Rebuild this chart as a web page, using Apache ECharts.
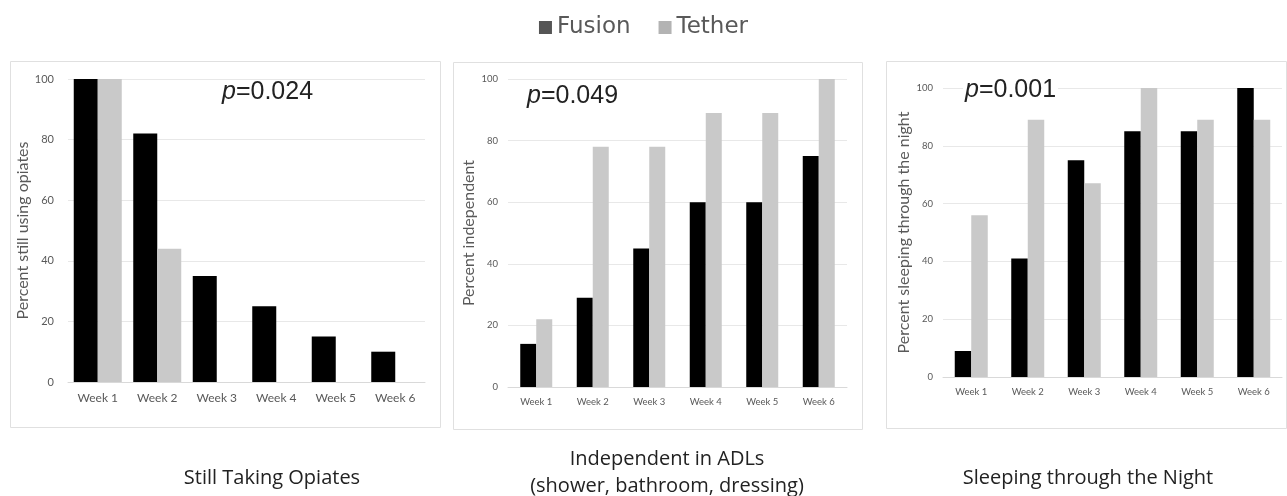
<!DOCTYPE html>
<html>
<head>
<meta charset="utf-8">
<script src="https://cdn.jsdelivr.net/npm/echarts@6/dist/echarts.min.js"></script>
<style>
  html,body{margin:0;padding:0;background:#fff;}
  #main{width:1287px;height:496px;}
</style>
</head>
<body>
<div id="main"></div>
<script>
var weeks=['Week 1','Week 2','Week 3','Week 4','Week 5','Week 6'];
var yTicks=[0,20,40,60,80,100];

var opiatesFusion=[100,82,35,25,15,10];
var opiatesTether=[100,44,0,0,0,0];
var adlFusion=[14,29,45,60,60,75];
var adlTether=[22,78,78,89,89,100];
var sleepFusion=[9,41,75,85,85,100];
var sleepTether=[56,89,67,100,89,89];

var pValues=['0.024','0.049','0.001'];
var panelTitles=['Still Taking Opiates','Independent in ADLs\n(shower, bathroom, dressing)','Sleeping through the Night'];
var yNames=['Percent still using opiates','Percent independent','Percent sleeping through the night'];

var fusionColor='#000000';
var tetherColor='#c9c9c9';
var labelColor='#595959';
var calibri='Lato, "Open Sans", sans-serif';

function xAxisOf(idx,size){
  return {
    type:'category',
    gridIndex:idx,
    data:weeks,
    axisTick:{show:false},
    axisLine:{lineStyle:{color:'#d9d9d9'}},
    axisLabel:{color:labelColor,fontSize:size,fontFamily:calibri,margin:10}
  };
}

function yAxisOf(idx,size,name,nameSize,gap){
  return {
    type:'value',
    gridIndex:idx,
    min:yTicks[0],
    max:yTicks[yTicks.length-1],
    interval:20,
    name:name,
    nameLocation:'middle',
    nameGap:gap,
    nameTextStyle:{color:labelColor,fontSize:nameSize,fontFamily:calibri},
    axisLine:{show:false},
    axisTick:{show:false},
    axisLabel:{color:labelColor,fontSize:size,fontFamily:calibri,margin:idx==0?14:10},
    splitLine:{lineStyle:{color:'#e8e8e8'}}
  };
}

function barOf(name,idx,data,color,width){
  return {
    name:name,
    type:'bar',
    xAxisIndex:idx,
    yAxisIndex:idx,
    data:data,
    barWidth:width,
    barGap:'0%',
    itemStyle:{color:color},
    emphasis:{disabled:true}
  };
}

// p-value label; the third one sits in a white box over the 100 gridline
function pText(x,y,val,filled){
  return {
    type:'text',
    x:x,
    y:y,
    z:100,
    style:{
      text:'{i|p}{n|='+val+'}',
      verticalAlign:'middle',
      backgroundColor:filled?'#fff':'transparent',
      padding:[0,2],
      rich:{
        i:{fontStyle:'italic',fontSize:25,fontFamily:'"Liberation Sans", Arial',fill:'#222'},
        n:{fontSize:25,fontFamily:'"Liberation Sans", Arial',fill:'#222'}
      }
    }
  };
}

function box(x,y,w,h){
  return {
    type:'rect',
    shape:{x:x+0.5,y:y+0.5,width:w,height:h},
    style:{fill:'none',stroke:'#e0e0e0',lineWidth:1},
    z:-1
  };
}

var titleStyle={fontSize:20,fontWeight:'normal',color:'#222',fontFamily:'"Open Sans", sans-serif',lineHeight:27};

var option={
  backgroundColor:'#fff',
  animation:false,
  legend:{
    top:11,
    left:'center',
    itemWidth:13,
    itemHeight:13,
    itemGap:28,
    icon:'rect',
    textStyle:{color:labelColor,fontSize:23,fontFamily:'"DejaVu Sans", sans-serif'},
    data:[
      {name:'Fusion',itemStyle:{color:'#555555'}},
      {name:'Tether',itemStyle:{color:'#b3b3b3'}}
    ]
  },
  title:[
    {text:panelTitles[0],left:267,top:460,textAlign:'center',textStyle:titleStyle},
    {text:panelTitles[1],left:662,top:441,textAlign:'center',textStyle:titleStyle},
    {text:panelTitles[2],left:1083,top:460,textAlign:'center',textStyle:titleStyle}
  ],
  grid:[
    {left:68,right:862,top:79,bottom:114,outerBoundsMode:'none'},
    {left:508,right:440,top:79,bottom:109,outerBoundsMode:'none'},
    {left:943,right:5,top:88,bottom:119,outerBoundsMode:'none'}
  ],
  xAxis:[xAxisOf(0,12),xAxisOf(1,9.5),xAxisOf(2,9.5)],
  yAxis:[
    yAxisOf(0,11,yNames[0],16,35),
    yAxisOf(1,9.5,yNames[1],16,31),
    yAxisOf(2,9.5,yNames[2],16,31)
  ],
  series:[
    barOf('Fusion',0,opiatesFusion,fusionColor,24),
    barOf('Tether',0,opiatesTether,tetherColor,24),
    barOf('Fusion',1,adlFusion,fusionColor,16),
    barOf('Tether',1,adlTether,tetherColor,16),
    barOf('Fusion',2,sleepFusion,fusionColor,16.5),
    barOf('Tether',2,sleepTether,tetherColor,16.5)
  ],
  graphic:[
    box(10,61,430,366),
    box(453,62,409,367),
    box(886,61,400,367),
    pText(220,92,pValues[0],false),
    pText(525,96,pValues[1],false),
    pText(963,90,pValues[2],true)
  ]
};

var chart=echarts.init(document.getElementById('main'));
chart.setOption(option);
</script>
</body>
</html>
